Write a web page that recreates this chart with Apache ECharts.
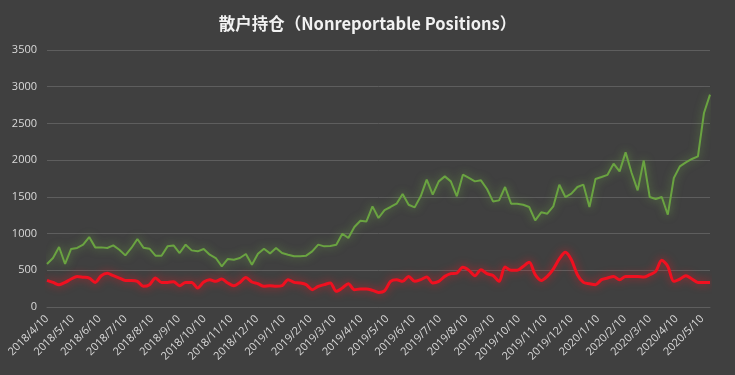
<!DOCTYPE html>
<html>
<head>
<meta charset="utf-8">
<script src="https://cdn.jsdelivr.net/npm/echarts@6/dist/echarts.min.js"></script>
<style>
html,body{margin:0;padding:0;background:#404040;}
#c{width:735px;height:375px;}
</style>
</head>
<body>
<div id="c"></div>
<script>
var dates = [
'2018-04-10','2018-04-17','2018-04-24','2018-05-01','2018-05-08','2018-05-15','2018-05-22','2018-05-29','2018-06-05','2018-06-12',
'2018-06-19','2018-06-26','2018-07-03','2018-07-10','2018-07-17','2018-07-24','2018-07-31','2018-08-07','2018-08-14','2018-08-21',
'2018-08-28','2018-09-04','2018-09-11','2018-09-18','2018-09-25','2018-10-02','2018-10-09','2018-10-16','2018-10-23','2018-10-30',
'2018-11-06','2018-11-13','2018-11-20','2018-11-27','2018-12-04','2018-12-11','2018-12-18','2018-12-25',
'2019-01-01','2019-01-08','2019-01-15','2019-01-22','2019-01-29','2019-02-05','2019-02-12','2019-02-19','2019-02-26','2019-03-05',
'2019-03-12','2019-03-19','2019-03-26','2019-04-02','2019-04-09','2019-04-16','2019-04-23','2019-04-30','2019-05-07','2019-05-14',
'2019-05-21','2019-05-28','2019-06-04','2019-06-11','2019-06-18','2019-06-25','2019-07-02','2019-07-09','2019-07-16','2019-07-23',
'2019-07-30','2019-08-06','2019-08-13','2019-08-20','2019-08-27','2019-09-03','2019-09-10','2019-09-17','2019-09-24','2019-10-01',
'2019-10-08','2019-10-15','2019-10-22','2019-10-29','2019-11-05','2019-11-12','2019-11-19','2019-11-26','2019-12-03','2019-12-10',
'2019-12-17','2019-12-24','2019-12-31',
'2020-01-07','2020-01-14','2020-01-21','2020-01-28','2020-02-04','2020-02-11','2020-02-18','2020-02-25','2020-03-03','2020-03-10',
'2020-03-17','2020-03-24','2020-03-31','2020-04-07','2020-04-14','2020-04-21','2020-04-28','2020-05-05','2020-05-12','2020-05-19'
];

var greenValues = [
586,667,817,586,790,804,849,953,812,812,
804,839,780,703,804,926,808,794,699,699,
826,839,735,849,771,758,790,712,667,553,
654,644,667,722,576,726,794,730,804,735,
712,690,690,699,758,849,826,830,849,998,
940,1090,1175,1165,1370,1212,1320,1362,1407,1539,
1393,1357,1507,1734,1530,1711,1779,1711,1507,1802,
1757,1711,1725,1607,1438,1452,1634,1407,1407,1393,
1362,1180,1289,1271,1370,1666,1498,1543,1634,1666,
1362,1743,1771,1800,1952,1847,2106,1825,1588,1997,
1498,1471,1498,1257,1757,1915,1970,2016,2051,2642,
2892
];

var redValues = [
362,335,304,335,381,417,406,394,335,426,
458,426,394,362,362,349,281,304,395,335,
335,345,290,335,335,259,340,372,349,381,
327,290,335,403,340,317,281,290,281,290,
372,335,327,304,236,281,304,327,213,259,
317,236,245,245,227,199,220,349,372,349,
417,349,372,408,327,349,417,454,463,540,
499,426,508,454,430,349,545,499,499,553,
608,440,362,417,517,654,744,644,440,335,
317,304,372,395,417,372,417,417,417,408,
440,485,635,553,349,381,426,381,335,335,
335
];

var tickLabels = [
'2018/4/10','2018/5/10','2018/6/10','2018/7/10','2018/8/10','2018/9/10','2018/10/10','2018/11/10','2018/12/10',
'2019/1/10','2019/2/10','2019/3/10','2019/4/10','2019/5/10','2019/6/10','2019/7/10','2019/8/10','2019/9/10',
'2019/10/10','2019/11/10','2019/12/10','2020/1/10','2020/2/10','2020/3/10','2020/4/10','2020/5/10'
];

function parseYMD(s){
  var p = s.split(/[-\/]/);
  return Date.UTC(+p[0], +p[1]-1, +p[2]);
}
function fmt(v){
  var d = new Date(v);
  return d.getUTCFullYear() + '/' + (d.getUTCMonth()+1) + '/' + d.getUTCDate();
}

var tickTimes = tickLabels.map(parseYMD);
var greenData = dates.map(function(d,i){ return [parseYMD(d), greenValues[i]]; });
var redData = dates.map(function(d,i){ return [parseYMD(d), redValues[i]]; });

var chart = echarts.init(document.getElementById('c'), null, {renderer:'canvas'});
chart.setOption({
  backgroundColor:'#404040',
  animation:false,
  title:{
    text:'散户持仓（Nonreportable Positions）',
    left:'center',
    top:10,
    textStyle:{color:'#f2f2f2',fontSize:16.5,fontWeight:'bold',fontFamily:'"Noto Sans CJK SC","Noto Sans",sans-serif'}
  },
  grid:{left:47,right:25,top:50,bottom:68,containLabel:false},
  xAxis:{
    type:'value',
    scale:true,
    min:parseYMD(dates[0]),
    max:parseYMD(dates[dates.length-1]),
    axisLine:{show:true,lineStyle:{color:'#5e5e5e',width:1}},
    axisTick:{show:false},
    splitLine:{show:false},
    axisLabel:{
      customValues:tickTimes,
      rotate:45,
      color:'#d9d9d9',
      fontSize:11,
      fontFamily:'"Open Sans","Noto Sans",sans-serif',
      margin:10,
      hideOverlap:false,
      formatter:function(v){ return fmt(v); }
    }
  },
  yAxis:{
    type:'value',
    min:0,max:3500,interval:500,
    axisLine:{show:false},
    axisTick:{show:false},
    splitLine:{lineStyle:{color:'#5e5e5e',width:1}},
    axisLabel:{color:'#d9d9d9',fontSize:11,fontFamily:'"Open Sans","Noto Sans",sans-serif',margin:10,
      formatter:function(v){ return String(v); }}
  },
  series:[
    {
      name:'green',type:'line',data:greenData,showSymbol:false,symbol:'none',
      lineStyle:{color:'#6aa341',width:2,shadowColor:'rgba(120,190,70,0.6)',shadowBlur:9},
      z:3
    },
    {
      name:'red',type:'line',data:redData,showSymbol:false,symbol:'none',smooth:0.3,
      lineStyle:{color:'#f01020',width:3,shadowColor:'rgba(255,20,30,0.65)',shadowBlur:9},
      z:4
    }
  ]
});
</script>
</body>
</html>
